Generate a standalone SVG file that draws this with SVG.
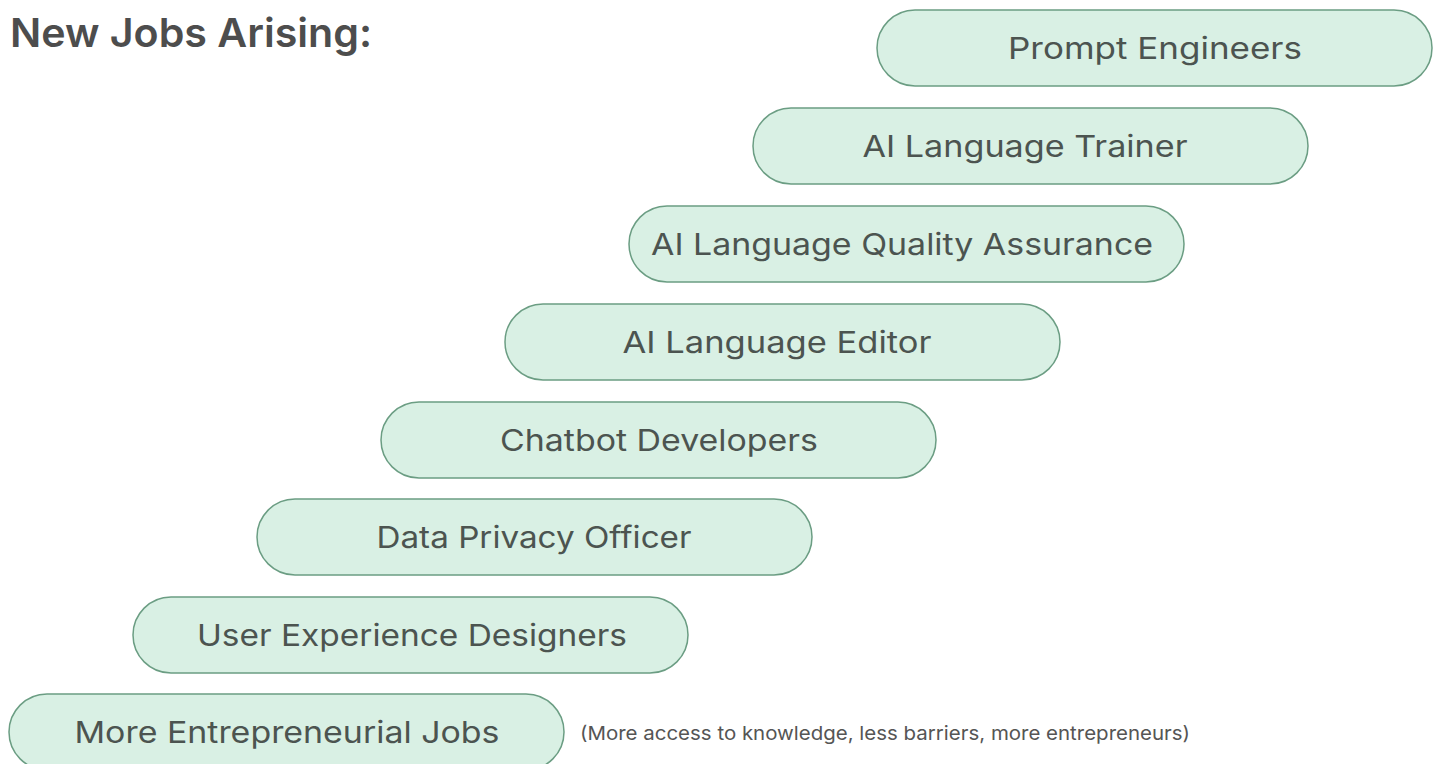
<svg xmlns="http://www.w3.org/2000/svg" width="1440" height="764" viewBox="0 0 1440 764">
<style>
.pill{fill:#d9f0e4;stroke:#6b9d83;stroke-width:1.5}
.lbl{font-family:Inter,"Open Sans","Liberation Sans",sans-serif;font-size:30px;fill:#4c5450;text-anchor:middle;dominant-baseline:central}
.title{font-family:Inter,"Liberation Sans",sans-serif;font-size:40px;font-weight:600;fill:#4d4d4d}
.note{font-family:Inter,"Liberation Sans",sans-serif;font-size:19px;fill:#555}
</style>
<rect width="1440" height="764" fill="#ffffff"/>
<text class="title" x="10" y="47" textLength="362" lengthAdjust="spacingAndGlyphs">New Jobs Arising:</text>
<g id="n1"><rect class="pill" x="877" y="10" width="555" height="76" rx="38"/><text class="lbl" x="1155" y="48" textLength="294" lengthAdjust="spacingAndGlyphs">Prompt Engineers</text></g>
<g id="n2"><rect class="pill" x="753" y="108" width="555" height="76" rx="38"/><text class="lbl" x="1025" y="146" textLength="325" lengthAdjust="spacingAndGlyphs">AI Language Trainer</text></g>
<g id="n3"><rect class="pill" x="629" y="206" width="555" height="76" rx="38"/><text class="lbl" x="902" y="244" textLength="502" lengthAdjust="spacingAndGlyphs">AI Language Quality Assurance</text></g>
<g id="n4"><rect class="pill" x="505" y="304" width="555" height="76" rx="38"/><text class="lbl" x="777" y="342" textLength="309" lengthAdjust="spacingAndGlyphs">AI Language Editor</text></g>
<g id="n5"><rect class="pill" x="381" y="402" width="555" height="76" rx="38"/><text class="lbl" x="659" y="440" textLength="318" lengthAdjust="spacingAndGlyphs">Chatbot Developers</text></g>
<g id="n6"><rect class="pill" x="257" y="499" width="555" height="76" rx="38"/><text class="lbl" x="534" y="537" textLength="315" lengthAdjust="spacingAndGlyphs">Data Privacy Officer</text></g>
<g id="n7"><rect class="pill" x="133" y="597" width="555" height="76" rx="38"/><text class="lbl" x="412" y="635" textLength="430" lengthAdjust="spacingAndGlyphs">User Experience Designers</text></g>
<g id="n8"><rect class="pill" x="9" y="694" width="555" height="76" rx="38"/><text class="lbl" x="287" y="732" textLength="425" lengthAdjust="spacingAndGlyphs">More Entrepreneurial Jobs</text></g>
<text class="note" x="580" y="740" textLength="610" lengthAdjust="spacingAndGlyphs">(More access to knowledge, less barriers, more entrepreneurs)</text>
<g id="connectors"/>
</svg>
